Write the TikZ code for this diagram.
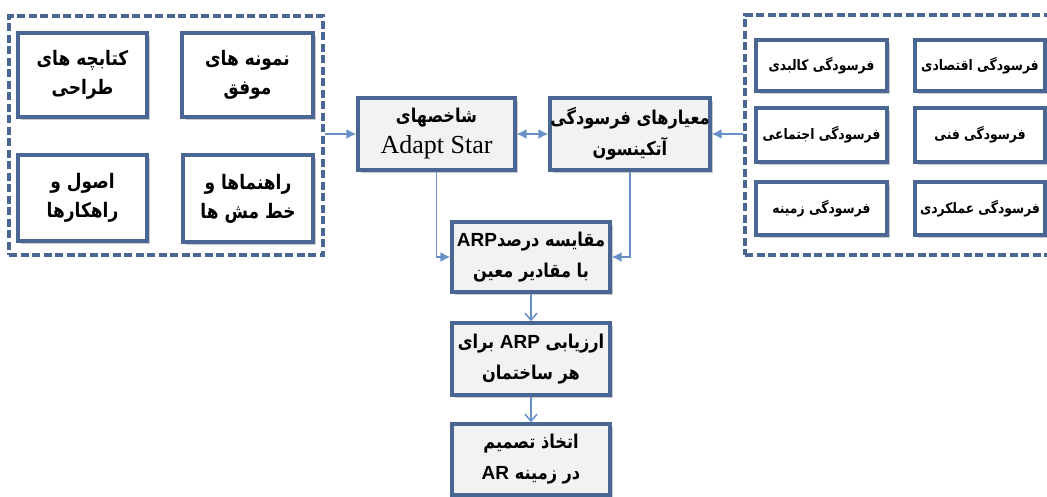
\documentclass[tikz,border=0pt]{standalone}
\usepackage{fontspec}
\usetikzlibrary{arrows.meta,shadows}
\TeXXeTstate=1
\newfontfamily\fafont[Script=Arabic, FakeStretch=0.85]{DejaVu Sans}
\newfontfamily\latsans{Liberation Sans}
\newfontfamily\latserif{Liberation Serif}
\newcommand\RTLline[1]{\beginR #1\endR}
\newcommand\LTRword[1]{\beginL{\latsans\bfseries #1}\endL}
\definecolor{boxblue}{HTML}{4A6794}
\definecolor{lineblue}{HTML}{6690C6}
\definecolor{midfill}{HTML}{F2F2F2}
\begin{document}
\begin{tikzpicture}[x=1pt,y=-1pt,
  box/.style={draw=boxblue, line width=3.4pt, fill=white, inner sep=0pt, align=center,
    drop shadow={shadow xshift=2.5pt, shadow yshift=-2.5pt, opacity=0.35, fill=black!60}},
  midbox/.style={box, fill=midfill},
  group/.style={draw=boxblue, line width=3.4pt, dash pattern=on 8pt off 3.5pt, inner sep=0pt},
  sidetxt/.style={font=\fafont\bfseries\fontsize{20}{29}\selectfont},
  righttxt/.style={font=\fafont\bfseries\fontsize{14.5}{20}\selectfont},
  midtxt/.style={font=\fafont\bfseries\fontsize{19}{31}\selectfont},
  conn/.style={draw=lineblue, line width=1.5pt},
  tipfill/.tip={Latex[length=10pt,width=10pt]},
  harrow/.style={conn, -tipfill},
  varrow/.style={conn, -{Straight Barb[length=7pt,width=12pt,line width=1.5pt]}}
]
\path[use as bounding box] (0,0) rectangle (1047,496);
\clip (0,0) rectangle (1047,496);

% left group of guides
\node[group, minimum width=314pt, minimum height=239pt] (lgroup) at (166,135.5) {};
\node[box, sidetxt, minimum width=129pt, minimum height=84pt] (booklets) at (82.5,75)
  {\RTLline{کتابچه های}\\\RTLline{طراحی}};
\node[box, sidetxt, minimum width=131pt, minimum height=84pt] (samples) at (247.5,75)
  {\RTLline{نمونه های}\\\RTLline{موفق}};
\node[box, sidetxt, minimum width=129pt, minimum height=86pt] (principles) at (82.5,198)
  {\RTLline{اصول و}\\\RTLline{راهکارها}};
\node[box, sidetxt, minimum width=130pt, minimum height=87pt] (guidelines) at (248,198.5)
  {\RTLline{راهنماها و}\\\RTLline{خط مش ها}};

% right group of decay types
\node[group, minimum width=315pt, minimum height=240pt] (rgroup) at (902.5,135) {};
\node[box, righttxt, minimum width=131pt, minimum height=51pt] (physical) at (821.5,65.5)
  {\RTLline{فرسودگی کالبدی}};
\node[box, righttxt, minimum width=130pt, minimum height=51pt] (economic) at (980,65.5)
  {\RTLline{فرسودگی اقتصادی}};
\node[box, righttxt, minimum width=131pt, minimum height=54pt] (social) at (821.5,135)
  {\RTLline{فرسودگی اجتماعی}};
\node[box, righttxt, minimum width=130pt, minimum height=54pt] (technical) at (980,135)
  {\RTLline{فرسودگی فنی}};
\node[box, righttxt, minimum width=131pt, minimum height=53pt] (context) at (821.5,208.5)
  {\RTLline{فرسودگی زمینه}};
\node[box, righttxt, minimum width=130pt, minimum height=53pt] (functional) at (980,208.5)
  {\RTLline{فرسودگی عملکردی}};

% central flow
\node[midbox, midtxt, minimum width=157pt, minimum height=72pt] (adapt) at (436.5,134)
  {\RTLline{شاخصهای}\\{\latserif\mdseries\fontsize{26}{31}\selectfont Adapt Star}};
\node[midbox, midtxt, minimum width=160pt, minimum height=72pt] (atkinson) at (630,134)
  {\RTLline{معیارهای فرسودگی}\\\RTLline{آتکینسون}};
\node[midbox, midtxt, minimum width=158pt, minimum height=70pt] (compare) at (531,257)
  {\RTLline{مقایسه درصد\LTRword{ARP}}\\\RTLline{با مقادیر معین}};
\node[midbox, midtxt, minimum width=158pt, minimum height=72pt] (assess) at (531,359)
  {\RTLline{ارزیابی \LTRword{ARP} برای}\\\RTLline{هر ساختمان}};
\node[midbox, midtxt, minimum width=158pt, minimum height=71pt] (decide) at (531,459.5)
  {\RTLline{اتخاذ تصمیم}\\\RTLline{در زمینه \LTRword{AR}}};

% connectors
\draw[harrow] (lgroup.east |- adapt.west) -- (adapt.west);
\draw[conn, tipfill-tipfill] (adapt.east) -- (atkinson.west);
\draw[harrow] (rgroup.west |- atkinson.east) -- (atkinson.east);
\draw[harrow] (adapt.south) |- (compare.west);
\draw[harrow] (atkinson.south) |- (compare.east);
\draw[varrow] (compare.south) -- (assess.north);
\draw[varrow] (assess.south) -- (decide.north);
\end{tikzpicture}
\end{document}
